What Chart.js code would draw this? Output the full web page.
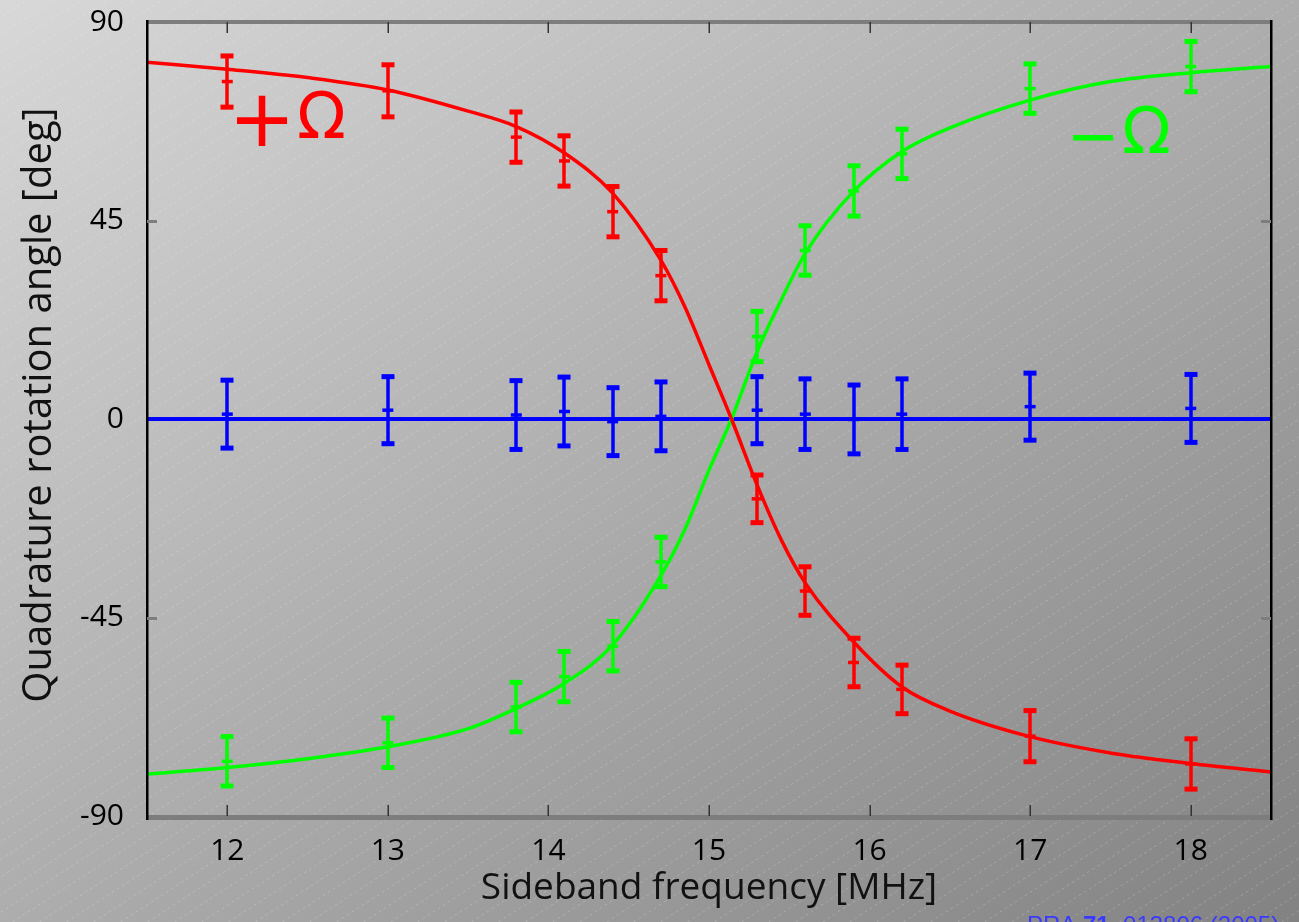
<!DOCTYPE html>
<html>
<head>
<meta charset="utf-8">
<script src="https://cdn.jsdelivr.net/npm/chart.js@4"></script>
<style>
  html, body { margin: 0; padding: 0; background: #b0b0b0; }
  #wrap { width: 1299px; height: 922px; }
</style>
</head>
<body>
<div id="wrap"><canvas id="chart" width="1299" height="922"></canvas></div>
<script>
// Measured points (sideband frequency in MHz, angle in degrees)
const freqs = [12, 13, 13.8, 14.1, 14.4, 14.7, 15.3, 15.6, 15.9, 16.2, 17, 18];
const plusY = [76.5, 74.4, 63.9, 58.5, 47.0, 32.5, -18.1, -39.0, -55.2, -61.3, -71.9, -78.2];
const plusErr = [5.8, 5.9, 5.7, 5.7, 5.7, 5.7, 5.4, 5.5, 5.5, 5.5, 5.8, 5.7];
const minusY = [-77.6, -73.4, -65.3, -58.4, -51.5, -32.4, 18.7, 38.2, 51.7, 60.1, 74.9, 79.9];
const minusErr = [5.6, 5.6, 5.6, 5.7, 5.6, 5.6, 5.7, 5.6, 5.7, 5.6, 5.6, 5.7];
const zeroY = [1.1, 2.0, 0.9, 1.7, -0.6, 0.6, 2.0, 1.1, -0.1, 1.1, 2.8, 2.4];
const zeroErr = [7.7, 7.6, 7.8, 7.8, 7.7, 7.8, 7.6, 8.0, 7.8, 8.0, 7.6, 7.7];

// Fit curves
const fitX = [11.5, 12, 12.5, 13, 13.5, 13.8, 14.1, 14.4, 14.7, 14.85, 15.0, 15.14, 15.3, 15.45, 15.6, 15.9, 16.2, 16.5, 17, 17.5, 18, 18.5];
const plusFit = [80.9, 79.3, 77.4, 74.6, 69.8, 66.3, 60.3, 51.2, 36.0, 25.4, 12.3, 0, -15.0, -27.4, -37.2, -50.5, -60.7, -66.2, -72.0, -75.7, -78.1, -80.0];
const minusFit = [-80.5, -79.0, -77.0, -74.3, -70.2, -65.6, -59.9, -51.2, -35.5, -25.0, -11.6, 0, 15.3, 27.0, 37.6, 51.6, 60.6, 66.0, 72.3, 76.5, 78.5, 79.9];
const zeroFitX = [11.5, 18.5];
const zeroFit = [0, 0];

// Axes
const xTicks = [12, 13, 14, 15, 16, 17, 18];
const yTicks = [-90, -45, 0, 45, 90];

const RED = '#ff0000', GREEN = '#00ff00', BLUE = '#0000ff';
const FONT = '"Open Sans", "DejaVu Sans", sans-serif';

const pts = (xs, ys) => xs.map((x, i) => ({ x: x, y: ys[i] }));

// Background gradient with faint diagonal hatching
const backdrop = {
    id: 'backdrop',
    beforeDraw(chart) {
        const { ctx, width, height } = chart;
        ctx.save();
        const g = ctx.createLinearGradient(0, 0, 870, 1226);
        g.addColorStop(0, '#d8d8d8');
        g.addColorStop(1, '#828282');
        ctx.fillStyle = g;
        ctx.fillRect(0, 0, width, height);
        ctx.strokeStyle = 'rgba(255,255,255,0.2)';
        ctx.lineWidth = 1;
        ctx.setLineDash([3, 3]);
        const slope = 0.65;
        for (let c = -height / slope; c < width; c += 27) {
            ctx.beginPath();
            ctx.moveTo(c, height);
            ctx.lineTo(c + height / slope, 0);
            ctx.stroke();
        }
        ctx.restore();
    }
};

// Error bars, frame, ticks and labels
const decorations = {
    id: 'decorations',
    afterDatasetsDraw(chart) {
        const { ctx, chartArea: a, scales: { x, y } } = chart;
        ctx.save();
        const series = [[plusY, plusErr, RED], [minusY, minusErr, GREEN], [zeroY, zeroErr, BLUE]];
        series.forEach(([vals, errs, col]) => {
            ctx.strokeStyle = col;
            ctx.fillStyle = col;
            vals.forEach((v, i) => {
                const px = Math.round(x.getPixelForValue(freqs[i]));
                const top = y.getPixelForValue(v + errs[i]);
                const bot = y.getPixelForValue(v - errs[i]);
                ctx.lineWidth = 3.5;
                ctx.beginPath();
                ctx.moveTo(px, top);
                ctx.lineTo(px, bot);
                ctx.stroke();
                ctx.fillRect(px - 6.5, top - 2.5, 13, 5);
                ctx.fillRect(px - 6.5, bot - 2.5, 13, 5);
            });
        });

        // frame
        ctx.fillStyle = '#7d7d7d';
        ctx.fillRect(a.left, a.top - 2, a.right - a.left, 4);
        ctx.fillRect(a.left, a.bottom - 1, a.right - a.left, 5);
        ctx.fillStyle = '#000';
        ctx.fillRect(a.left - 1, a.top - 2, 2.5, a.bottom - a.top + 6);
        ctx.fillRect(a.right - 1, a.top - 2, 2.5, a.bottom - a.top + 6);

        // ticks
        ctx.fillStyle = '#333';
        xTicks.forEach(t => {
            const px = Math.round(x.getPixelForValue(t));
            ctx.fillRect(px - 0.5, a.top, 1.5, 11);
            ctx.fillRect(px - 0.5, a.bottom - 11, 1.5, 11);
        });
        ctx.fillStyle = '#7d7d7d';
        [45, -45].forEach(t => {
            const py = Math.round(y.getPixelForValue(t));
            ctx.fillRect(a.left, py - 1, 10, 3);
            ctx.fillRect(a.right - 10, py - 1, 10, 3);
        });
        ctx.restore();
    },
    afterDraw(chart) {
        const { ctx } = chart;
        ctx.save();
        // y axis title
        ctx.fillStyle = '#111';
        ctx.font = '40px ' + FONT;
        ctx.textAlign = 'center';
        ctx.textBaseline = 'middle';
        ctx.translate(40, 405);
        ctx.rotate(-Math.PI / 2);
        ctx.fillText('Quadrature rotation angle [deg]', 0, 0);
        ctx.restore();

        ctx.save();
        ctx.textAlign = 'center';
        ctx.fillStyle = RED;
        ctx.font = '80px "DejaVu Sans"';
        ctx.fillText('+', 262, 146);
        ctx.textAlign = 'left';
        ctx.font = '64px "DejaVu Sans"';
        ctx.fillText('\u03A9', 297, 138);
        ctx.fillStyle = GREEN;
        ctx.textAlign = 'center';
        ctx.fillText('\u2212', 1093, 158);
        ctx.textAlign = 'left';
        ctx.fillText('\u03A9', 1122, 153);

        // citation, cut off by the bottom edge
        ctx.fillStyle = '#3a3aff';
        ctx.font = '24px "Liberation Sans"';
        let cx = 1027;
        ctx.fillText('PRA ', cx, 933);
        cx += ctx.measureText('PRA ').width;
        ctx.font = 'bold 24px "Liberation Sans"';
        ctx.fillText('71', cx, 933);
        cx += ctx.measureText('71').width;
        ctx.font = '24px "Liberation Sans"';
        ctx.fillText(', 013806 (2005)', cx, 933);
        ctx.restore();
    }
};

const lineSet = (xs, ys, col, w) => ({
    type: 'line',
    data: pts(xs, ys),
    borderColor: col,
    borderWidth: w,
    pointRadius: 0,
    cubicInterpolationMode: 'monotone',
    fill: false
});

const markSet = (ys, col) => ({
    type: 'scatter',
    data: pts(freqs, ys),
    borderColor: col,
    backgroundColor: col,
    pointStyle: 'line',
    pointRadius: 5.5,
    borderWidth: 3.5
});

new Chart(document.getElementById('chart'), {
    data: {
        datasets: [
            lineSet(fitX, plusFit, RED, 3.5),
            lineSet(fitX, minusFit, GREEN, 3.5),
            lineSet(zeroFitX, zeroFit, BLUE, 4),
            markSet(plusY, RED),
            markSet(minusY, GREEN),
            markSet(zeroY, BLUE)
        ]
    },
    options: {
        responsive: false,
        animation: false,
        devicePixelRatio: 1,
        layout: { padding: { top: 22, right: 28, left: 0, bottom: 0 } },
        plugins: { legend: { display: false }, tooltip: { enabled: false } },
        scales: {
            x: {
                type: 'linear',
                min: 11.5,
                max: 18.5,
                grid: { display: false, drawTicks: false },
                border: { display: false },
                afterBuildTicks: s => { s.ticks = xTicks.map(v => ({ value: v })); },
                afterFit: s => { s.height = 106; s.paddingLeft = 0; s.paddingRight = 0; },
                ticks: { color: '#000', padding: 17, font: { family: FONT, size: 30 } },
                title: {
                    display: true,
                    text: 'Sideband frequency [MHz]',
                    color: '#111',
                    padding: { bottom: 11 },
                    font: { family: FONT, size: 37 }
                }
            },
            y: {
                type: 'linear',
                min: -90,
                max: 90,
                grid: { display: false, drawTicks: false },
                border: { display: false },
                afterBuildTicks: s => { s.ticks = yTicks.map(v => ({ value: v })); },
                afterFit: s => { s.width = 147; s.paddingTop = 0; s.paddingBottom = 0; },
                ticks: { color: '#000', padding: 23, font: { family: FONT, size: 30 } }
            }
        }
    },
    plugins: [backdrop, decorations]
});
</script>
</body>
</html>
